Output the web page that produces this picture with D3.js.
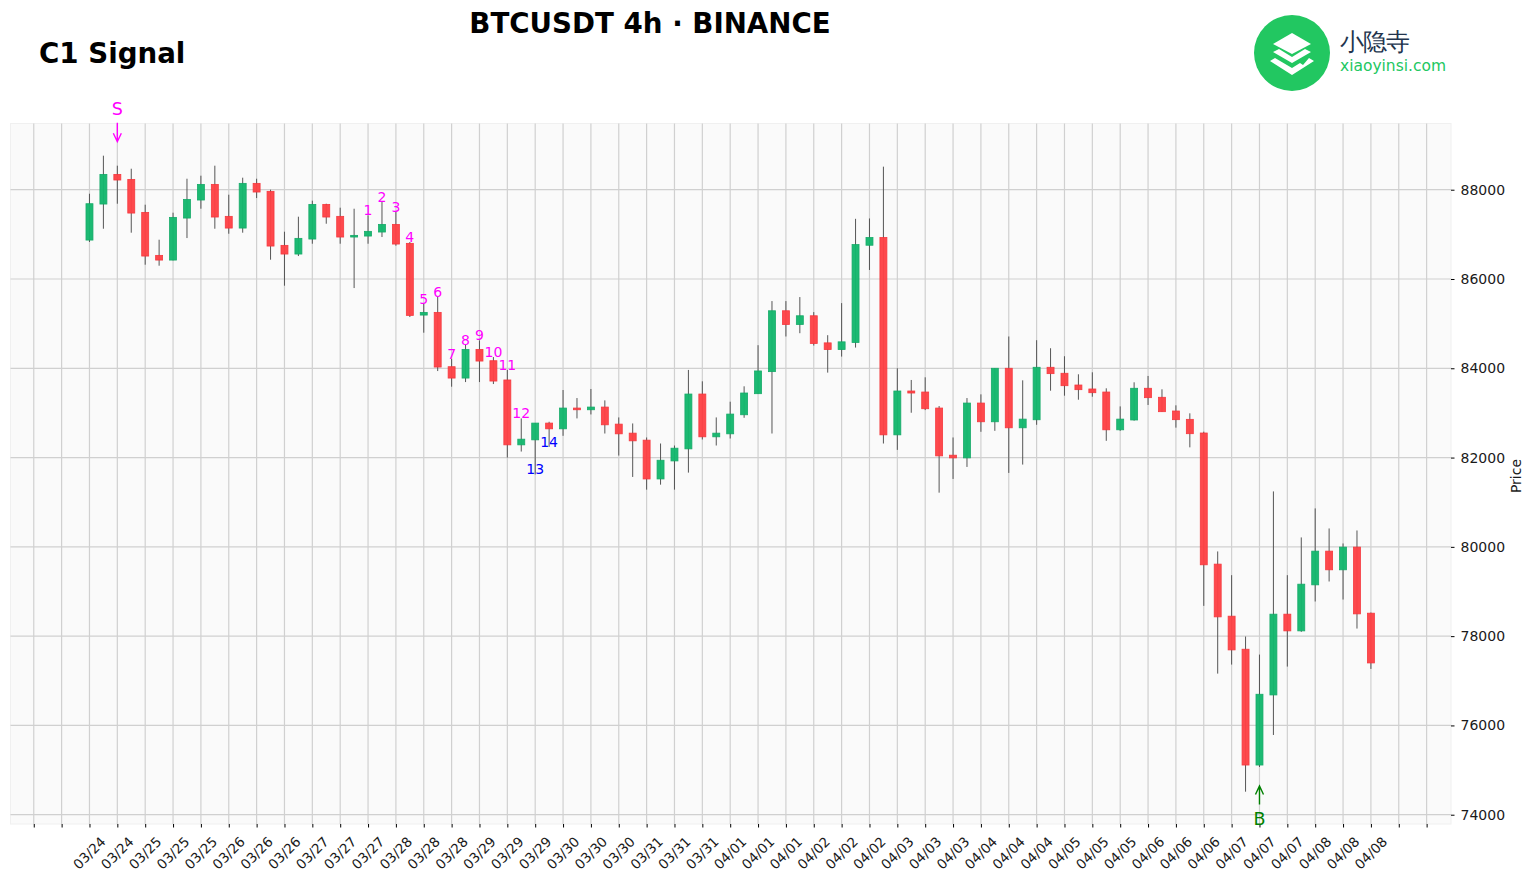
<!DOCTYPE html>
<html>
<head>
<meta charset="utf-8">
<script src="https://cdn.jsdelivr.net/npm/d3@7/dist/d3.min.js"></script>
<style>
html, body { margin: 0; padding: 0; background: #fff; }
svg { display: block; }
text { font-family: "DejaVu Sans", sans-serif; }
</style>
</head>
<body>
<script>
// candles, one per 4h bar
var opens = [86872,87679,88343,88231,87492,86529,86424,87365,87769,88119,87403,87141,88142,87963,86753,86559,86895,87671,87403,86940,
  86962,87052,87223,86798,85192,85252,84035,83781,84423,84169,83738,82285,82397,82772,82644,83109,83071,83131,82749,82547,
  82390,81521,81925,82195,83423,82465,82532,82959,83431,83925,85288,84981,85176,84569,84419,84577,86756,86929,82509,83491,
  83468,83109,82053,81993,83221,82802,84000,82667,82847,84022,83888,83625,83536,83468,82622,82842,83552,83350,83043,82856,
  82550,79613,78447,77707,75113,76683,78492,78118,79149,79904,79486,79994,78514];
var closes = [87686,88343,88217,87477,86514,86424,87380,87783,88119,87388,87141,88142,87948,86738,86559,86910,87671,87388,86940,86977,
  87067,87223,86783,85185,85252,84028,83781,84423,84162,83714,82285,82412,82772,82644,83109,83071,83131,82734,82532,82375,
  81521,81940,82210,83423,82465,82547,82974,83446,83940,85288,84981,85176,84554,84419,84592,86771,86929,82509,83491,83446,
  83094,82038,81993,83221,82802,84000,82667,82861,84022,83880,83610,83521,83453,82622,82861,83552,83342,83028,82849,82535,
  79598,78432,77692,75113,76698,78492,78118,79164,79904,79486,79994,78499,77400];
var highs = [87910,88762,88538,88470,87664,86880,87485,88246,88314,88538,87888,88269,88246,88000,87059,87395,87754,87686,87597,87574,
  87425,87724,87500,86828,85446,85596,84214,84528,84625,84251,83963,82877,82772,82802,83513,83333,83536,83281,82899,82764,
  82450,82315,82270,83963,83708,82899,83251,83596,84517,85505,85505,85595,85258,84741,85460,87348,87356,88516,84000,83738,
  83798,83154,82450,83333,83416,84000,84712,83730,84629,84449,84270,83865,83910,83551,83146,83686,83828,83529,83170,82991,
  82580,79897,79366,77991,77587,81242,79366,80211,80861,80412,80076,80367,78529];
var lows = [86828,87126,87686,87037,86320,86298,86417,86917,87574,87126,87014,87037,87813,86432,85850,86514,86790,87238,86790,85797,
  86790,86940,86746,85148,84797,83938,83587,83691,83691,83647,82000,82135,81622,82240,82487,82877,82966,82539,82045,81566,
  81281,81393,81281,81663,82405,82270,82427,82891,83431,82539,84712,84786,84509,83903,84262,84464,86202,82315,82172,83004,
  83064,81214,81521,81790,82577,82599,81656,81843,82734,83498,83386,83296,83363,82375,82599,82827,83178,83028,82670,82229,
  78678,77161,77363,74516,75069,75786,77318,78096,78776,79224,78820,78170,77266];

var tickLabels = ["03/24","03/24","03/25","03/25","03/25","03/26","03/26","03/26","03/27","03/27","03/27","03/28","03/28","03/28",
  "03/29","03/29","03/29","03/30","03/30","03/30","03/31","03/31","03/31","04/01","04/01","04/01","04/02","04/02","04/02",
  "04/03","04/03","04/03","04/04","04/04","04/04","04/05","04/05","04/05","04/06","04/06","04/06","04/07","04/07","04/07",
  "04/08","04/08","04/08"];
var priceTicks = [74000,76000,78000,80000,82000,84000,86000,88000];

// TD style count above the highs, the last two sit below the lows
var countStart = 20;
var countLabels = ["1","2","3","4","5","6","7","8","9","10","11","12","13","14"];
var belowLabels = ["13","14"];
var sellIndex = 2, buyIndex = 84;

var width = 1533, height = 881;
var left = 10.5, right = 1451, top_ = 123.5, bottom = 824;

var x = d3.scaleLinear().domain([-5.67, 97.75]).range([left, right]);
var y = d3.scaleLinear().domain([73792, 89483]).range([bottom, top_]);

var svg = d3.select("body").append("svg")
  .attr("width", width)
  .attr("height", height);

svg.append("rect")
  .attr("x", left).attr("y", top_)
  .attr("width", right - left).attr("height", bottom - top_)
  .attr("fill", "#fafafa")
  .attr("stroke", "#f0f0f0");

var xTicks = d3.range(-4, 98, 2);

// grid
svg.append("g").selectAll("line").data(xTicks).join("line")
  .attr("x1", function(d) { return x(d); }).attr("x2", function(d) { return x(d); })
  .attr("y1", top_).attr("y2", bottom)
  .attr("stroke", "#d0d0d0").attr("stroke-width", 1.2);
svg.append("g").selectAll("line").data(priceTicks).join("line")
  .attr("x1", left).attr("x2", right)
  .attr("y1", function(d) { return y(d); }).attr("y2", function(d) { return y(d); })
  .attr("stroke", "#d0d0d0").attr("stroke-width", 1.2);

// axes
var xAxis = d3.axisBottom(x).tickValues(xTicks).tickSize(3.5).tickFormat("");
var gx = svg.append("g").attr("transform", "translate(0," + bottom + ")").call(xAxis);
gx.select(".domain").remove();
gx.selectAll("line").attr("stroke", "#000");

var yAxis = d3.axisRight(y).tickValues(priceTicks).tickSize(3.5).tickPadding(6).tickFormat(d3.format("d"));
var gy = svg.append("g").attr("transform", "translate(" + right + ",0)").call(yAxis);
gy.select(".domain").remove();
gy.selectAll("line").attr("stroke", "#000");
gy.selectAll("text").attr("font-size", 14).attr("font-family", "DejaVu Sans").attr("fill", "#1a1a1a");

svg.append("g").selectAll("text").data(tickLabels).join("text")
  .attr("transform", function(d, i) { return "translate(" + x(i * 2) + "," + (bottom + 29) + ") rotate(-45)"; })
  .attr("text-anchor", "middle")
  .attr("dy", ".35em")
  .attr("font-size", 13.6)
  .attr("fill", "#1a1a1a")
  .text(function(d) { return d; });

svg.append("text")
  .attr("transform", "translate(1516,476) rotate(-90)")
  .attr("text-anchor", "middle")
  .attr("dy", ".35em")
  .attr("font-size", 14)
  .attr("fill", "#1a1a1a")
  .text("Price");

// candles
var bars = d3.range(opens.length);
var upCol = "#14b86e", upEdge = "#0ea864", downCol = "#ff4246", downEdge = "#f53238";

svg.append("g").selectAll("line").data(bars).join("line")
  .attr("x1", function(i) { return x(i); }).attr("x2", function(i) { return x(i); })
  .attr("y1", function(i) { return y(highs[i]); }).attr("y2", function(i) { return y(lows[i]); })
  .attr("stroke", "#555").attr("stroke-width", 1);

svg.append("g").selectAll("rect").data(bars).join("rect")
  .attr("x", function(i) { return x(i - 0.25); })
  .attr("width", function(i) { return x(i + 0.25) - x(i - 0.25); })
  .attr("y", function(i) { return y(Math.max(opens[i], closes[i])); })
  .attr("height", function(i) { return Math.abs(y(opens[i]) - y(closes[i])); })
  .attr("fill", function(i) { return closes[i] >= opens[i] ? upCol : downCol; })
  .attr("stroke", function(i) { return closes[i] >= opens[i] ? upEdge : downEdge; })
  .attr("stroke-width", 0.8)
  .attr("opacity", 0.96);

// count labels
svg.append("g").selectAll("text").data(countLabels).join("text")
  .attr("x", function(d, i) { return x(countStart + i); })
  .attr("y", function(d, i) {
    var bar = countStart + i;
    return belowLabels.indexOf(d) >= 0 ? y(lows[bar]) : y(highs[bar]);
  })
  .attr("text-anchor", "middle")
  .attr("font-size", 14)
  .attr("fill", function(d) { return belowLabels.indexOf(d) >= 0 ? "#0000ff" : "#ff00ff"; })
  .text(function(d) { return d; });

// sell / buy arrows
function arrow(px, fromY, toY, col) {
  var dir = toY > fromY ? -1 : 1;
  svg.append("path")
    .attr("d", "M" + px + "," + fromY + "L" + px + "," + toY +
      "M" + (px - 4) + "," + (toY + dir * 8.5) + "L" + px + "," + toY + "L" + (px + 4) + "," + (toY + dir * 8.5))
    .attr("fill", "none")
    .attr("stroke", col)
    .attr("stroke-width", 1.4);
}
var sx = x(sellIndex), bx = x(buyIndex);
arrow(sx, y(highs[sellIndex]) - 43, y(highs[sellIndex]) - 24, "#ff00ff");
arrow(bx, y(lows[buyIndex]) + 37.5, y(lows[buyIndex]) + 19, "#008000");
svg.append("text").attr("x", sx).attr("y", y(highs[sellIndex]) - 50.5)
  .attr("text-anchor", "middle").attr("font-size", 17.5).attr("fill", "#ff00ff").text("S");
svg.append("text").attr("x", bx).attr("y", y(lows[buyIndex]) + 58)
  .attr("text-anchor", "middle").attr("font-size", 17.5).attr("fill", "#008000").text("B");

// titles
svg.append("text").attr("x", 650).attr("y", 32.5).attr("text-anchor", "middle")
  .attr("font-size", 27.7).attr("font-weight", "bold").attr("fill", "#000").text("BTCUSDT 4h · BINANCE");
svg.append("text").attr("x", 39).attr("y", 63)
  .attr("font-size", 27.7).attr("font-weight", "bold").attr("fill", "#000").text("C1 Signal");

// logo
var logo = svg.append("g").attr("transform", "translate(1292,53)");
logo.append("circle").attr("r", 38).attr("fill", "#22c761");
logo.append("path").attr("d", "M0,-20L19,-9L0,1L-19,-9Z").attr("fill", "#fff");
logo.append("path").attr("d", "M-19,-1L-13,-4L0,4L13,-4L19,-1L0,10Z").attr("fill", "#fff");
logo.append("path").attr("d", "M-22,8L-17,5L0,15L8,10L11,12L17,5L22,8L0,22Z").attr("fill", "#fff");
svg.append("text").attr("x", 1340).attr("y", 50)
  .attr("font-family", "Noto Sans CJK SC").attr("font-size", 24).attr("fill", "#22344d")
  .attr("textLength", 70).text("小隐寺");
svg.append("text").attr("x", 1340).attr("y", 71)
  .attr("font-size", 15.5).attr("fill", "#22c761")
  .attr("textLength", 106).text("xiaoyinsi.com");
</script>
</body>
</html>
